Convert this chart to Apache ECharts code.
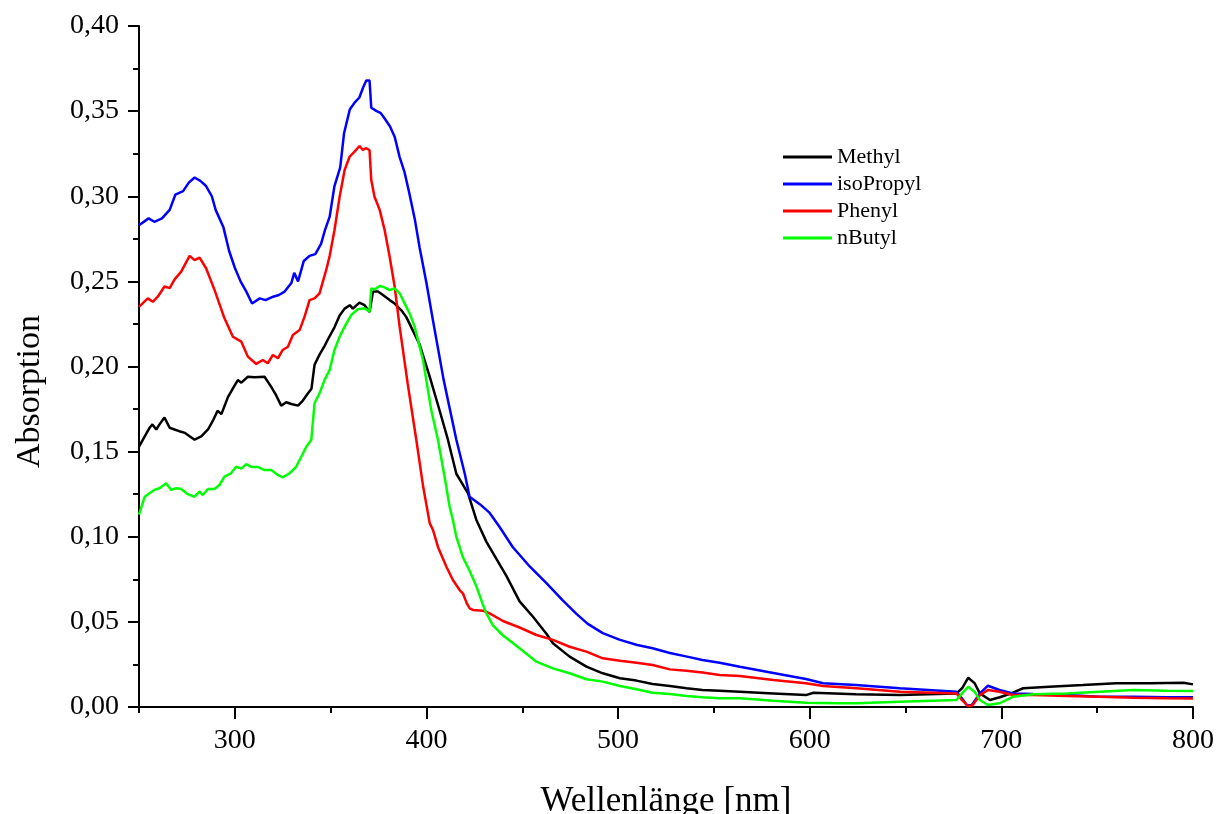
<!DOCTYPE html>
<html>
<head>
<meta charset="utf-8">
<script src="https://cdn.jsdelivr.net/npm/echarts@6/dist/echarts.min.js"></script>
<style>
  html, body { margin: 0; padding: 0; background: #ffffff; }
  #chart { width: 1216px; height: 814px; }
</style>
</head>
<body>
<div id="chart"></div>
<script>
// Absorption spectra, [wavelength in nm, absorbance]
const methyl = [
  [250,0.153],[253,0.159],[255.5,0.164],[257,0.166],[259,0.163],[260.7,0.166],[263.3,0.170],[266,0.164],
  [268.5,0.163],[271,0.162],[274,0.161],[276.4,0.159],[279,0.157],[282.5,0.159],[286,0.163],[288.5,0.168],
  [291,0.174],[293,0.172],[296.4,0.182],[300,0.189],[301.6,0.192],[303.4,0.1905],[306.8,0.194],[310.3,0.1937],
  [315.5,0.194],[319,0.188],[321.6,0.183],[324.2,0.177],[326.8,0.179],[329.5,0.178],[333,0.177],[335.5,0.180],
  [338,0.184],[340,0.187],[341.6,0.201],[344.2,0.207],[346.8,0.212],[348.6,0.216],[352,0.223],[354.7,0.230],
  [357.3,0.234],[360,0.236],[361.6,0.234],[365,0.2375],[367.7,0.236],[370.3,0.232],[372.1,0.244],[374.7,0.244],
  [377.3,0.242],[380.8,0.239],[383.4,0.237],[386.9,0.233],[389.5,0.229],[392.1,0.223],[396.4,0.213],[401.7,0.194],
  [406.9,0.174],[411.2,0.157],[415.6,0.137],[421.7,0.1255],[426,0.110],[431.3,0.097],[436.5,0.087],[441.7,0.077],
  [448.6,0.062],[455.6,0.053],[462.6,0.043],[466,0.0374],[474.7,0.0296],[483.5,0.0237],[492,0.0198],[501,0.0169],
  [509.6,0.0155],[518,0.0135],[527,0.0123],[535.7,0.011],[544,0.010],[553,0.0096],[563.5,0.009],[581,0.008],
  [598,0.007],[602,0.0084],[624,0.0075],[647,0.007],[676.6,0.008],[679.5,0.011],[682.7,0.0172],[686,0.014],
  [688.8,0.008],[694,0.0041],[699.2,0.0057],[706,0.0084],[711.4,0.011],[725,0.0119],[742.6,0.0129],[760,0.0139],
  [777.6,0.0139],[795,0.0143],[800,0.0133]
];

const isoPropyl = [
  [250,0.283],[251,0.284],[255,0.287],[258,0.285],[262,0.287],[266,0.292],[269,0.301],[273,0.303],
  [276,0.308],[279,0.311],[282,0.309],[285,0.306],[288,0.300],[290,0.292],[294,0.282],[297,0.268],
  [300,0.258],[303,0.250],[306,0.244],[309,0.237],[313,0.240],[316,0.239],[320,0.241],[323,0.242],
  [326,0.244],[329.5,0.249],[331,0.255],[333,0.250],[336,0.262],[339,0.265],[342,0.266],[345,0.272],
  [347,0.280],[349.5,0.288],[352,0.306],[355,0.317],[357,0.337],[360,0.351],[362.5,0.355],[365,0.358],
  [367,0.364],[368.6,0.368],[370.3,0.368],[371.2,0.352],[374,0.350],[376,0.349],[378,0.346],[381,0.341],
  [383.4,0.335],[386,0.323],[388.6,0.314],[391,0.302],[394,0.286],[396.4,0.270],[400,0.249],[403.4,0.227],
  [409,0.192],[415.6,0.157],[420,0.137],[422.5,0.1235],[428,0.119],[433,0.114],[438,0.106],[445,0.094],
  [454,0.0824],[462.6,0.0728],[471,0.0628],[478,0.055],[484,0.049],[492,0.0434],[501,0.0394],[510,0.0364],
  [518,0.0345],[527,0.0317],[536,0.0296],[544,0.0276],[553,0.026],[563.5,0.0237],[581,0.020],[598,0.0164],
  [607,0.014],[624,0.0129],[647,0.011],[676.6,0.009],[679.5,0.005],[682,0.001],[684.5,0.001],[688.8,0.008],
  [693,0.0125],[699,0.010],[706,0.008],[716.5,0.0076],[734,0.007],[751,0.006],[769,0.006],[786.5,0.0057],
  [800,0.0057]
];

const phenyl = [
  [250,0.235],[254.6,0.240],[257.2,0.238],[259.8,0.241],[263.3,0.247],[266,0.246],[268.5,0.251],[272,0.2557],
  [276.4,0.265],[279,0.2625],[281.6,0.264],[285,0.2577],[289.4,0.245],[294.6,0.2283],[299,0.2175],[303.4,0.2146],
  [306.8,0.2058],[311.2,0.2015],[314.6,0.2038],[317.2,0.2019],[319.9,0.2068],[322.5,0.2048],[325,0.2097],[327.7,0.2116],
  [330.3,0.2185],[333.8,0.2214],[336.4,0.2293],[339,0.239],[341.6,0.240],[344.2,0.243],[347.7,0.2567],[349.5,0.265],
  [352,0.280],[354.7,0.2997],[357.3,0.3154],[359.9,0.3232],[362.5,0.3262],[365.1,0.3295],[366.8,0.3272],[368.6,0.3282],
  [370.3,0.327],[371.2,0.3095],[372.9,0.2997],[375.6,0.292],[378.2,0.280],[380.8,0.2645],[383.4,0.247],[386,0.2234],
  [390.2,0.19],[394.7,0.157],[398.2,0.13],[401.7,0.108],[403.4,0.104],[406,0.094],[410.4,0.0824],[413.8,0.0746],
  [417.3,0.0687],[419,0.0668],[421,0.061],[422.5,0.058],[424.3,0.057],[429.5,0.0566],[433,0.055],[439.9,0.0505],
  [448.6,0.0467],[457.4,0.0423],[466,0.0394],[474.7,0.0354],[483.5,0.0325],[492,0.0286],[501,0.0272],[509.6,0.026],
  [518,0.0247],[527,0.0221],[535.7,0.0213],[544,0.0202],[553,0.0188],[563.5,0.0182],[581,0.0159],[598,0.0139],
  [607,0.0123],[624.4,0.011],[647,0.009],[676.6,0.008],[679.5,0.004],[682.7,0.0005],[685,0.001],[688.8,0.007],
  [693,0.010],[699,0.009],[706,0.007],[716.6,0.007],[734,0.0065],[751,0.006],[769,0.0055],[786,0.0052],
  [800,0.005]
];

const nButyl = [
  [250,0.113],[253,0.1235],[255.5,0.1255],[258,0.1275],[260.7,0.1285],[264.2,0.1314],[266.8,0.1275],[269.4,0.1285],
  [272,0.128],[275.5,0.125],[279,0.1235],[281.6,0.1265],[283.3,0.1245],[286,0.128],[289.4,0.128],[292,0.1304],
  [294.6,0.1353],[298,0.1373],[300.7,0.1411],[303.4,0.140],[306,0.1427],[308.6,0.141],[312,0.141],[315.5,0.1392],
  [319,0.1392],[322.5,0.1363],[325,0.1349],[328.6,0.1373],[332,0.1411],[334.7,0.147],[337.3,0.1529],[339.9,0.1568],
  [341.6,0.1784],[344.2,0.1843],[346.8,0.192],[349.5,0.198],[352,0.2097],[354.7,0.2175],[357.3,0.2234],[360.8,0.2303],
  [364.2,0.2336],[367.7,0.2342],[370.3,0.2322],[371.2,0.2459],[373,0.2453],[375.6,0.2473],[378.2,0.2465],[380.8,0.2449],
  [383.4,0.2459],[386,0.243],[388.6,0.2371],[391.2,0.2312],[393.8,0.2234],[398.2,0.2038],[402.5,0.1744],[406,0.157],
  [409.5,0.135],[412.1,0.1176],[413.8,0.1098],[415.6,0.100],[417.3,0.094],[419,0.088],[422.5,0.080],[426,0.071],
  [429.5,0.060],[431.3,0.055],[434.7,0.048],[440,0.042],[448.6,0.0345],[457.4,0.0266],[466,0.0227],[474.7,0.0198],
  [483.5,0.0163],[492,0.0149],[501,0.0123],[509.6,0.0104],[518,0.0084],[527,0.0076],[535.7,0.0065],[544,0.0057],
  [553,0.0051],[563.5,0.0051],[581,0.0037],[598,0.0025],[615.6,0.0022],[624.4,0.0022],[647,0.0031],[676.6,0.0041],
  [679.5,0.008],[682.7,0.0119],[686,0.009],[688.8,0.0041],[693,0.0012],[699,0.0022],[706,0.006],[716.6,0.0075],
  [734,0.008],[751.4,0.009],[768.8,0.010],[786.3,0.0096],[800,0.0094]
];

const seriesNames = ['Methyl', 'isoPropyl', 'Phenyl', 'nButyl'];
const seriesColors = ['#000000', '#0000ff', '#ff0000', '#00ff00'];
const seriesData = [methyl, isoPropyl, phenyl, nButyl];

// Axis ticks
const xMajorTicks = [300, 400, 500, 600, 700, 800];
const xMinorTicks = [250, 350, 450, 550, 650, 750];

const FONT = "'Liberation Serif', 'Times New Roman', serif";

const chart = echarts.init(document.getElementById('chart'), null, { renderer: 'canvas' });

const axisLine = { show: true, lineStyle: { color: '#000', width: 2 } };

chart.setOption({
  animation: false,
  backgroundColor: '#ffffff',
  grid: { left: 139, right: 23, top: 26, bottom: 107, containLabel: false, outerBoundsMode: 'none' },
  legend: {
    orient: 'vertical',
    left: 778,
    top: 141,
    icon: 'rect',
    itemWidth: 49,
    itemHeight: 3,
    itemGap: 5,
    textStyle: { fontFamily: FONT, fontSize: 22, color: '#000', lineHeight: 22, padding: [0, 0, 0, 0] },
    data: seriesNames
  },
  xAxis: [
    {
      type: 'value', position: 'bottom', min: 250, max: 800, interval: 50,
      name: 'Wellenlänge [nm]', nameLocation: 'middle', nameGap: 77,
      nameTextStyle: { fontFamily: FONT, fontSize: 35, color: '#000' },
      axisLine: axisLine,
      axisTick: { show: true, inside: false, length: 12, customValues: xMajorTicks, lineStyle: { color: '#000', width: 2 } },
      axisLabel: { show: true, customValues: xMajorTicks, margin: 20, fontFamily: FONT, fontSize: 28, color: '#000' },
      splitLine: { show: false }
    },
    {
      type: 'value', position: 'bottom', min: 250, max: 800, interval: 50,
      axisLine: { show: false },
      axisTick: { show: true, inside: false, length: 6, customValues: xMinorTicks, lineStyle: { color: '#000', width: 2 } },
      axisLabel: { show: false },
      splitLine: { show: false }
    }
  ],
  yAxis: {
    type: 'value', min: 0, max: 0.4, interval: 0.05,
    name: 'Absorption', nameLocation: 'middle', nameGap: 92, nameRotate: 90,
    nameTextStyle: { fontFamily: FONT, fontSize: 34, color: '#000', padding: [0, 50, 0, 0] },
    axisLine: axisLine,
    axisTick: { show: true, inside: false, length: 11, lineStyle: { color: '#000', width: 2 } },
    minorTick: { show: true, splitNumber: 2, length: 6, lineStyle: { color: '#000', width: 2 } },
    axisLabel: {
      margin: 20, fontFamily: FONT, fontSize: 28, color: '#000',
      formatter: v => v.toFixed(2).replace('.', ',')
    },
    splitLine: { show: false },
    minorSplitLine: { show: false }
  },
  series: seriesNames.map((name, i) => ({
    name: name,
    type: 'line',
    xAxisIndex: 0,
    data: seriesData[i],
    showSymbol: false,
    symbol: 'none',
    smooth: false,
    color: seriesColors[i],
    lineStyle: { color: seriesColors[i], width: 2.5 }
  }))
});
</script>
</body>
</html>
